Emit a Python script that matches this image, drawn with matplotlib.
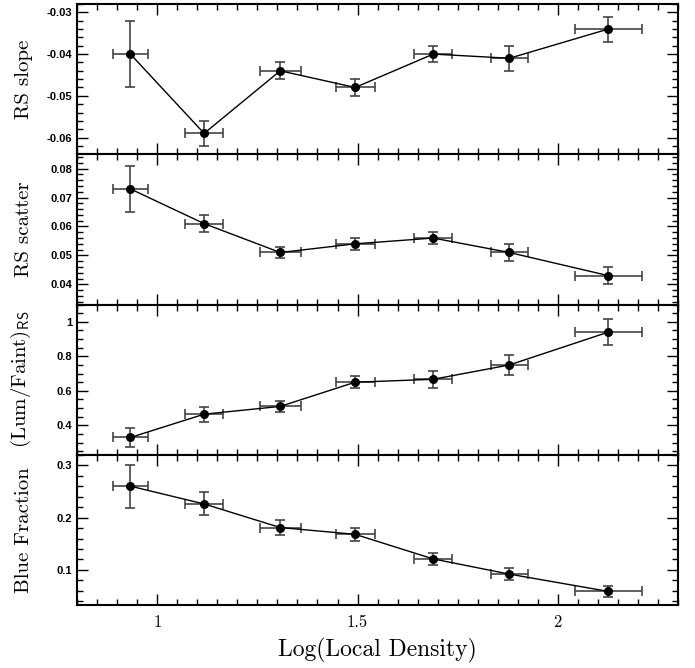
import matplotlib
matplotlib.use("Agg")
import matplotlib.pyplot as plt
from matplotlib.ticker import MultipleLocator, FormatStrFormatter

# data
log_density = [0.933, 1.117, 1.307, 1.494, 1.689, 1.879, 2.126]
density_err = [0.044, 0.048, 0.051, 0.049, 0.048, 0.046, 0.083]

rs_slope = [-0.040, -0.059, -0.044, -0.048, -0.040, -0.041, -0.034]
rs_slope_err = [0.008, 0.003, 0.002, 0.002, 0.002, 0.003, 0.003]

rs_scatter = [0.073, 0.061, 0.051, 0.054, 0.056, 0.051, 0.043]
rs_scatter_err = [0.008, 0.003, 0.002, 0.002, 0.002, 0.003, 0.003]

lum_faint = [0.33, 0.465, 0.51, 0.65, 0.667, 0.75, 0.94]
lum_faint_err = [0.055, 0.043, 0.03, 0.035, 0.05, 0.06, 0.075]

blue_frac = [0.26, 0.226, 0.181, 0.168, 0.121, 0.092, 0.059]
blue_frac_err = [0.041, 0.022, 0.014, 0.012, 0.011, 0.012, 0.01]

panels = [
    ("RS slope", rs_slope, rs_slope_err, (-0.064, -0.028), 0.01, 0.002, "%.2f"),
    ("RS scatter", rs_scatter, rs_scatter_err, (0.033, 0.085), 0.01, 0.002, "%.2f"),
    (r"(Lum/Faint)$_{\mathsf{RS}}$", lum_faint, lum_faint_err, (0.23, 1.1), 0.2, 0.05, None),
    ("Blue Fraction", blue_frac, blue_frac_err, (0.033, 0.32), 0.1, 0.02, "%.1f"),
]

plt.rcParams["mathtext.fontset"] = "cm"
plt.rcParams["axes.formatter.use_mathtext"] = True

fig, axes = plt.subplots(4, 1, figsize=(6.95, 6.68), dpi=100, sharex=True)
fig.subplots_adjust(left=0.111, right=0.9755, top=0.994, bottom=0.0943, hspace=0)

for ax, (label, vals, errs, ylim, major, minor, fmt) in zip(axes, panels):
    ax.errorbar(log_density, vals, xerr=density_err, yerr=errs, fmt="none",
                ecolor="#444444", elinewidth=1.2, capsize=3.5, capthick=1.2, zorder=2)
    ax.plot(log_density, vals, color="black", linewidth=1.0, marker="o",
            markersize=5.5, markerfacecolor="black", zorder=3)
    ax.set_ylim(*ylim)
    ax.set_xlim(0.8, 2.3)
    ax.yaxis.set_major_locator(MultipleLocator(major))
    ax.yaxis.set_minor_locator(MultipleLocator(minor))
    if fmt:
        ax.yaxis.set_major_formatter(FormatStrFormatter(fmt))
    else:
        ax.yaxis.set_major_formatter(plt.FuncFormatter(lambda v, p: "%g" % round(v, 2)))
    ax.xaxis.set_major_locator(MultipleLocator(0.5))
    ax.xaxis.set_minor_locator(MultipleLocator(0.05))
    ax.tick_params(which="both", direction="in", top=True, right=True, width=1.0)
    ax.tick_params(which="major", length=8)
    ax.tick_params(which="minor", length=4)
    ax.tick_params(axis="y", which="major", labelsize=8)
    for t in ax.get_yticklabels():
        t.set_fontfamily("Liberation Sans")
        t.set_fontweight("bold")
    for s in ax.spines.values():
        s.set_linewidth(1.5)
    ax.set_ylabel(label, family="cmr10", fontsize=15, labelpad=10)

axes[-1].tick_params(axis="x", labelsize=12, pad=7)
for t in axes[-1].get_xticklabels():
    t.set_fontfamily("cmr10")
axes[-1].xaxis.set_major_formatter(plt.FuncFormatter(lambda v, p: "%g" % v))
axes[-1].set_xlabel("Log(Local Density)", family="cmr10", fontsize=17, labelpad=6)

fig.align_ylabels(axes)
fig.savefig("out.png", dpi=100)
